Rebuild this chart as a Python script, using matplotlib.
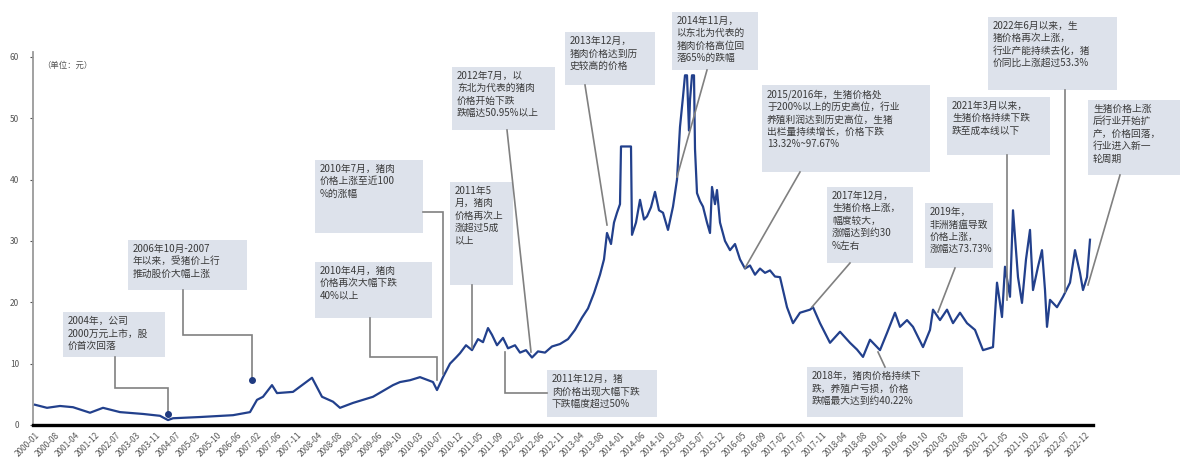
import numpy as np
import matplotlib
matplotlib.use('Agg')
import matplotlib.pyplot as plt
from matplotlib.patches import Rectangle

plt.rcParams['font.family'] = ['Noto Sans CJK SC', 'DejaVu Sans']
plt.rcParams['axes.unicode_minus'] = False

# 价格序列：横轴为样本序号，纵轴为价格（元）
period = [0, 12, 25, 38, 55, 68, 85, 108, 125, 133, 138, 165, 198, 215, 222, 228, 237, 242,
          258, 277, 287, 298, 305, 318, 338, 358, 365, 375, 385, 393, 398, 402, 408, 415,
          421, 425, 431, 437, 443, 448, 453, 457, 462, 468, 473, 480, 485, 491, 497, 503,
          510, 517, 525, 533, 540, 547, 553, 559, 565, 569, 572, 576, 579, 582, 585, 586,
          596, 597, 601, 605, 609, 612, 616, 620, 624, 628, 633, 638, 642, 645, 648, 650,
          652, 654, 655, 657, 659, 660, 662, 665, 668, 672, 675, 677, 680, 682, 685, 690,
          695, 700, 705, 710, 715, 720, 725, 730, 735, 740, 745, 752, 758, 765, 775, 778,
          785, 795, 805, 815, 822, 828, 835, 845, 852, 860, 865, 872, 878, 888, 895, 898,
          905, 912, 918, 925, 932, 940, 948, 958, 962, 967, 970, 975, 978, 983, 987, 991,
          995, 998, 1003, 1007, 1010, 1012, 1015, 1022, 1028, 1035, 1040, 1045, 1048, 1052,
          1055]
price = [3.3, 2.8, 3.1, 2.9, 2.0, 2.8, 2.1, 1.8, 1.5, 0.8, 1.1, 1.3, 1.6, 2.1, 4.1, 4.6, 6.5, 5.2,
         5.4, 7.7, 4.6, 3.8, 2.8, 3.6, 4.6, 6.5, 7.0, 7.3, 7.8, 7.3, 7.0, 5.7, 7.8, 10.0,
         11.0, 11.7, 13.0, 12.2, 14.0, 13.5, 15.8, 14.7, 13.0, 14.2, 12.5, 13.0, 11.8, 12.2, 11.0, 12.0,
         11.8, 12.8, 13.2, 14.0, 15.5, 17.5, 19.0, 21.5, 24.5, 27.0, 31.3, 29.5, 33.0, 34.6, 36.0, 45.4,
         45.4, 31.0, 33.0, 36.7, 33.5, 34.0, 35.5, 38.0, 35.0, 34.6, 31.8, 35.6, 40.0, 48.6, 53.5, 57.0,
         57.0, 48.0, 53.0, 57.0, 57.0, 45.0, 37.8, 36.5, 35.6, 33.0, 31.3, 38.8, 36.0, 38.3, 33.0, 30.0,
         28.5, 29.5, 27.0, 25.5, 26.0, 24.5, 25.5, 24.8, 25.2, 24.2, 24.1, 19.2, 16.6, 18.3, 18.8, 19.2,
         16.6, 13.4, 15.2, 13.4, 12.3, 11.1, 13.9, 12.2, 15.0, 18.3, 16.0, 17.1, 16.0, 12.7, 15.5, 18.8,
         17.1, 18.8, 16.6, 18.3, 16.6, 15.5, 12.2, 12.7, 23.2, 17.6, 25.8, 20.9, 35.0, 24.1, 19.9, 27.0,
         31.8, 22.0, 25.8, 28.5, 22.0, 16.0, 20.4, 19.2, 20.9, 23.2, 28.5, 24.8, 22.0, 24.1,
         30.2]

date_labels = ['2000-01', '2000-08', '2001-04', '2001-12', '2002-07', '2003-03', '2003-11',
               '2004-07', '2005-03', '2005-10', '2006-06', '2007-02', '2007-06', '2007-11',
               '2008-04', '2008-08', '2009-01', '2009-06', '2009-10', '2010-03', '2010-07',
               '2010-12', '2011-05', '2011-09', '2012-02', '2012-06', '2012-11', '2013-04',
               '2013-08', '2014-01', '2014-06', '2014-10', '2015-03', '2015-07', '2015-12',
               '2016-05', '2016-09', '2017-02', '2017-07', '2017-11', '2018-04', '2018-08',
               '2019-01', '2019-06', '2019-10', '2020-03', '2020-08', '2020-12', '2021-05',
               '2021-10', '2022-02', '2022-07', '2022-12']

notes = [
    '2004年，公司\n2000万元上市，股\n价首次回落',
    '2006年10月-2007\n年以来，受猪价上行\n推动股价大幅上涨',
    '2010年4月，猪肉\n价格再次大幅下跌\n40%以上',
    '2010年7月，猪肉\n价格上涨至近100\n%的涨幅',
    '2011年5\n月，猪肉\n价格再次上\n涨超过5成\n以上',
    '2012年7月，以\n东北为代表的猪肉\n价格开始下跌\n跌幅达50.95%以上',
    '2013年12月，\n猪肉价格达到历\n史较高的价格',
    '2014年11月，\n以东北为代表的\n猪肉价格高位回\n落65%的跌幅',
    '2015/2016年，生猪价格处\n于200%以上的历史高位，行业\n养殖利润达到历史高位，生猪\n出栏量持续增长，价格下跌\n13.32%~97.67%',
    '2017年12月，\n生猪价格上涨，\n幅度较大，\n涨幅达到约30\n%左右',
    '2019年，\n非洲猪瘟导致\n价格上涨，\n涨幅达73.73%',
    '2018年，猪肉价格持续下\n跌，养殖户亏损，价格\n跌幅最大达到约40.22%',
    '2011年12月，猪\n肉价格出现大幅下跌\n下跌幅度超过50%',
    '2021年3月以来，\n生猪价格持续下跌\n跌至成本线以下',
    '2022年6月以来，生\n猪价格再次上涨，\n行业产能持续去化，猪\n价同比上涨超过53.3%',
    '生猪价格上涨\n后行业开始扩\n产，价格回落，\n行业进入新一\n轮周期',
]

# 注释框位置（像素，左上角 x, y, 宽, 高）与引线折点
boxes = [(63, 312, 102, 45), (128, 240, 119, 50), (315, 262, 117, 56), (315, 160, 108, 73),
         (450, 182, 63, 103), (452, 67, 103, 63), (565, 32, 90, 53), (672, 12, 86, 58),
         (762, 85, 168, 87), (827, 187, 86, 76), (925, 203, 68, 65), (807, 367, 156, 50),
         (547, 370, 110, 47), (947, 97, 103, 58), (988, 17, 129, 73), (1088, 100, 92, 75)]
leaders = [[(115, 357), (115, 388), (168, 388), (168, 414)],
           [(183, 290), (183, 335), (252, 335), (252, 380)],
           [(370, 318), (370, 357), (437, 357), (437, 380)],
           [(423, 212), (443, 212), (443, 374)],
           [(472, 285), (472, 348)],
           [(507, 130), (531, 352)],
           [(585, 85), (607, 225)],
           [(707, 70), (677, 177)],
           [(800, 172), (745, 268)],
           [(850, 263), (812, 307)],
           [(955, 268), (938, 312)],
           [(885, 367), (878, 352)],
           [(547, 393), (505, 393), (505, 352)],
           [(1007, 155), (1007, 300)],
           [(1065, 90), (1065, 292)],
           [(1120, 175), (1088, 285)]]
dots = [(168, 414), (252, 380)]

W, H = 1181, 463
fig = plt.figure(figsize=(W / 100, H / 100), dpi=100)
fig.patch.set_facecolor('white')

ax = fig.add_axes([33 / W, 38 / H, (W - 33) / W, 373 / H])
ax.plot(period, price, color='#22408c', lw=1.6, zorder=3)

ax.set_xlim(-2, W - 35)
ax.set_ylim(0, 60.8)
ax.set_yticks(range(0, 61, 10))
ax.tick_params(axis='y', labelsize=6, colors='#555555', length=2, width=0.8, pad=8)
ax.set_xticks(np.arange(len(date_labels)) * 20.2)
ax.set_xticklabels(date_labels, rotation=45, ha='right', rotation_mode='anchor',
                   fontsize=6, color='#555555')
ax.tick_params(axis='x', length=0, pad=4)

for s in ['top', 'right']:
    ax.spines[s].set_visible(False)
ax.spines['left'].set_color('#9a9a9a')
ax.spines['left'].set_linewidth(1.3)
ax.spines['left'].set_bounds(0, 60.8)
ax.spines['bottom'].set_color('black')
ax.spines['bottom'].set_linewidth(2.4)
ax.spines['bottom'].set_bounds(-2, 1058)

ax.text(0.008, 0.975, '（单位：元）', transform=ax.transAxes, fontsize=6,
        color='#555555', va='top', ha='left')

# 注释层：以像素为坐标
ov = fig.add_axes([0, 0, 1, 1], zorder=5)
ov.set_xlim(0, W)
ov.set_ylim(H, 0)
ov.axis('off')
ov.patch.set_alpha(0)

for pts in leaders:
    xs, ys = zip(*pts)
    ov.plot(xs, ys, color='#808080', lw=1.2, solid_joinstyle='miter')
for x, y in dots:
    ov.plot(x, y, 'o', color='#1f3a80', ms=4)

for (x0, y0, w, h), txt in zip(boxes, notes):
    ov.add_patch(Rectangle((x0, y0), w, h, facecolor='#dde2eb', edgecolor='none'))
    ov.text(x0 + 5, y0 + 4, txt, fontsize=7, color='#3a3a3a', va='top', ha='left',
            linespacing=1.3)

fig.savefig('out.png', dpi=100)
